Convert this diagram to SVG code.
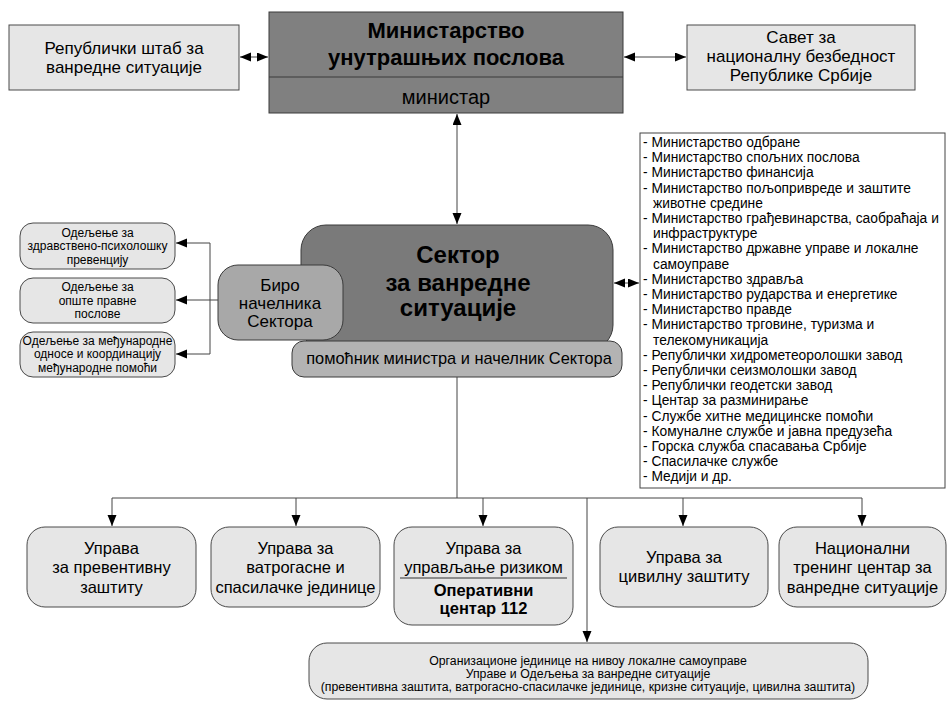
<svg xmlns="http://www.w3.org/2000/svg" width="949" height="701" viewBox="0 0 949 701">
<defs>
<marker id="ah" markerUnits="userSpaceOnUse" markerWidth="12" markerHeight="10" refX="11" refY="4.5" orient="auto-start-reverse">
<path d="M0,0 L11,4.5 L0,9 z" fill="#000"/>
</marker>
<style>
text{font-family:"Liberation Sans",Arial,sans-serif;fill:#000}
.lt{fill:#e6e6e6;stroke:#4a4a4a;stroke-width:1}
.c{text-anchor:middle}
.f16{font-size:16.5px}
.f17{font-size:17px}
.f12{font-size:12px}
.con{fill:none;stroke:#444;stroke-width:1}
</style>
</defs>
<rect width="949" height="701" fill="#fff"/>

<g id="shtab">
<rect class="lt" x="9" y="25" width="230" height="65"/>
<text class="c f17" x="124" y="54">Републички штаб за</text>
<text class="c f17" x="124" y="73">ванредне ситуације</text>
</g>

<g id="mup">
<rect x="269" y="12" width="354" height="101" fill="#808080" stroke="#3a3a3a"/>
<line x1="269" y1="77" x2="623" y2="77" stroke="#3a3a3a"/>
<text class="c" x="446" y="38" font-size="22" font-weight="bold">Министарство</text>
<text class="c" x="446" y="65" font-size="22" font-weight="bold">унутрашњих послова</text>
<text class="c" x="446" y="104" font-size="20">министар</text>
</g>

<g id="savet">
<rect class="lt" x="687" y="25" width="228" height="65"/>
<text class="c f17" x="801" y="43">Савет за</text>
<text class="c f17" x="801" y="62">националну безбедност</text>
<text class="c f17" x="801" y="81">Републике Србије</text>
</g>

<g id="sektor">
<rect x="301" y="225" width="312" height="125" rx="25" fill="#7a7a7a" stroke="#3a3a3a"/>
<text class="c" x="458" y="263" font-size="24" font-weight="bold">Сектор</text>
<text class="c" x="458" y="291" font-size="24" font-weight="bold">за ванредне</text>
<text class="c" x="458" y="316" font-size="24" font-weight="bold">ситуације</text>
</g>

<g id="biro">
<rect x="218" y="265" width="125" height="75" rx="20" fill="#a8a8a8" stroke="#3a3a3a"/>
<text class="c" x="280" y="291" font-size="17">Биро</text>
<text class="c" x="280" y="309" font-size="17">начелника</text>
<text class="c" x="280" y="327" font-size="17">Сектора</text>
</g>

<g id="pomocnik">
<rect x="292" y="341" width="330" height="36" rx="12" fill="#b3b3b3" stroke="#3a3a3a"/>
<text class="c" x="459" y="364" font-size="16.4">помоћник министра и начелник Сектора</text>
</g>

<g id="odeljenje1">
<rect class="lt" x="20" y="223" width="155" height="46" rx="13"/>
<text class="c f12" x="97.5" y="237">Одељење за</text>
<text class="c f12" x="97.5" y="250">здравствено-психолошку</text>
<text class="c f12" x="97.5" y="264">превенцију</text>
</g>
<g id="odeljenje2">
<rect class="lt" x="20" y="278" width="155" height="45" rx="13"/>
<text class="c f12" x="97.5" y="291">Одељење за</text>
<text class="c f12" x="97.5" y="305">опште правне</text>
<text class="c f12" x="97.5" y="318">послове</text>
</g>
<g id="odeljenje3">
<rect class="lt" x="20" y="332" width="155" height="45" rx="13"/>
<text class="c f12" x="97.5" y="345">Одељење за међународне</text>
<text class="c f12" x="97.5" y="358">односе и координацију</text>
<text class="c f12" x="97.5" y="372">међународне помоћи</text>
</g>

<g id="lista">
<rect x="640" y="133" width="305" height="355" fill="#fff" stroke="#444"/>
<text font-size="13.8" x="643" y="147">
<tspan x="643" y="147">- Министарство одбране</tspan>
<tspan x="643" dy="15.2">- Министарство спољних послова</tspan>
<tspan x="643" dy="15.2">- Министарство финансија</tspan>
<tspan x="643" dy="15.2">- Министарство пољопривреде и заштите</tspan>
<tspan x="653" dy="15.2">животне средине</tspan>
<tspan x="643" dy="15.2">- Министарство грађевинарства, саобраћаја и</tspan>
<tspan x="653" dy="15.2">инфраструктуре</tspan>
<tspan x="643" dy="15.2">- Министарство државне управе и локалне</tspan>
<tspan x="653" dy="15.2">самоуправе</tspan>
<tspan x="643" dy="15.2">- Министарство здравља</tspan>
<tspan x="643" dy="15.2">- Министарство рударства и енергетике</tspan>
<tspan x="643" dy="15.2">- Министарство правде</tspan>
<tspan x="643" dy="15.2">- Министарство трговине, туризма и</tspan>
<tspan x="653" dy="15.2">телекомуникација</tspan>
<tspan x="643" dy="15.2">- Републички хидрометеоролошки завод</tspan>
<tspan x="643" dy="15.2">- Републички сеизмолошки завод</tspan>
<tspan x="643" dy="15.2">- Републички геодетски завод</tspan>
<tspan x="643" dy="15.2">- Центар за разминирање</tspan>
<tspan x="643" dy="15.2">- Службе хитне медицинске помоћи</tspan>
<tspan x="643" dy="15.2">- Комуналне службе и јавна предузећа</tspan>
<tspan x="643" dy="15.2">- Горска служба спасавања Србије</tspan>
<tspan x="643" dy="15.2">- Спасилачке службе</tspan>
<tspan x="643" dy="15.2">- Медији и др.</tspan>
</text>
</g>

<g id="uprava1">
<rect class="lt" x="27" y="527" width="169" height="80" rx="18"/>
<text class="c f16" x="111.5" y="554">Управа</text>
<text class="c f16" x="111.5" y="573">за превентивну</text>
<text class="c f16" x="111.5" y="593">заштиту</text>
</g>
<g id="uprava2">
<rect class="lt" x="211" y="527" width="169" height="80" rx="18"/>
<text class="c f16" x="295.5" y="554">Управа за</text>
<text class="c f16" x="295.5" y="573">ватрогасне и</text>
<text class="c f16" x="295.5" y="593">спасилачке јединице</text>
</g>
<g id="uprava3">
<rect class="lt" x="394" y="527" width="179" height="98" rx="18"/>
<text class="c f16" x="483.5" y="554">Управа за</text>
<text class="c f16" x="483.5" y="573">управљање ризиком</text>
<line x1="400" y1="578" x2="567" y2="578" stroke="#333"/>
<text class="c f16" x="483.5" y="596" font-weight="bold">Оперативни</text>
<text class="c f16" x="483.5" y="614" font-weight="bold">центар 112</text>
</g>
<g id="uprava4">
<rect class="lt" x="600" y="527" width="168" height="80" rx="18"/>
<text class="c f16" x="684" y="563">Управа за</text>
<text class="c f16" x="684" y="582">цивилну заштиту</text>
</g>
<g id="trening">
<rect class="lt" x="779" y="527" width="167" height="80" rx="18"/>
<text class="c f16" x="862.5" y="554">Национални</text>
<text class="c f16" x="862.5" y="573">тренинг центар за</text>
<text class="c f16" x="862.5" y="593">ванредне ситуације</text>
</g>

<g id="lokalne">
<rect class="lt" x="309" y="643" width="559" height="56" rx="18"/>
<text class="c" x="588" y="665" font-size="12.3">Организационе јединице на нивоу локалне самоуправе</text>
<text class="c" x="588" y="678" font-size="12.3">Управе и Одељења за ванредне ситуације</text>
<text class="c" x="588" y="691" font-size="12.3">(превентивна заштита, ватрогасно-спасилачке јединице, кризне ситуације, цивилна заштита)</text>
</g>

<g id="connectors">
<line class="con" x1="240" y1="57" x2="268" y2="57" marker-start="url(#ah)" marker-end="url(#ah)"/>
<line class="con" x1="624" y1="57" x2="686" y2="57" marker-start="url(#ah)" marker-end="url(#ah)"/>
<line class="con" x1="457" y1="114" x2="457" y2="224" marker-start="url(#ah)" marker-end="url(#ah)"/>
<line class="con" x1="614" y1="283" x2="639" y2="283" marker-start="url(#ah)" marker-end="url(#ah)"/>
<line class="con" x1="218" y1="300" x2="176" y2="300" marker-end="url(#ah)"/>
<line class="con" x1="210" y1="243" x2="210" y2="354"/>
<line class="con" x1="210" y1="243" x2="176" y2="243" marker-end="url(#ah)"/>
<line class="con" x1="210" y1="354" x2="176" y2="354" marker-end="url(#ah)"/>
<line class="con" x1="457" y1="377" x2="457" y2="498"/>
<line class="con" x1="112" y1="498" x2="862" y2="498"/>
<line class="con" x1="112" y1="498" x2="112" y2="526" marker-end="url(#ah)"/>
<line class="con" x1="296" y1="498" x2="296" y2="526" marker-end="url(#ah)"/>
<line class="con" x1="483" y1="498" x2="483" y2="526" marker-end="url(#ah)"/>
<line class="con" x1="683" y1="498" x2="683" y2="526" marker-end="url(#ah)"/>
<line class="con" x1="862" y1="498" x2="862" y2="526" marker-end="url(#ah)"/>
<line class="con" x1="587" y1="498" x2="587" y2="642" marker-end="url(#ah)"/>
</g>
</svg>
